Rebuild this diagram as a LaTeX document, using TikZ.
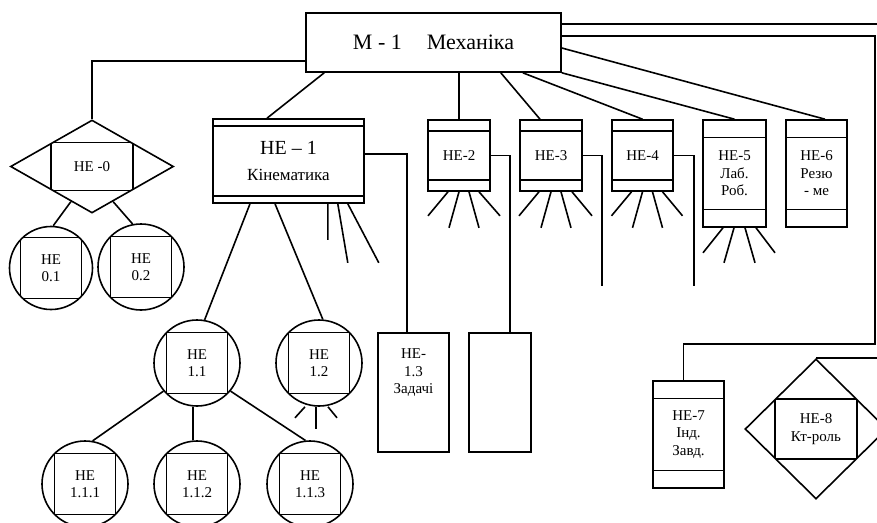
\documentclass[tikz,border=0pt]{standalone}
\usepackage{fontspec}
\setmainfont{Liberation Serif}
\usetikzlibrary{shapes.geometric}

\begin{document}
\begin{tikzpicture}[
  x=1pt, y=-1pt, line width=1.6pt,
  every node/.style={align=center, inner sep=0pt, font=\fontsize{15}{17.5}\selectfont}
]
\tikzset{
  pryam/.style={draw, rectangle},
  blok/.style={draw, rectangle, path picture={
      \draw[line width=1.6pt] ([yshift=-#1]path picture bounding box.north west) -- ([yshift=-#1]path picture bounding box.north east)
            ([yshift=#1]path picture bounding box.south west) -- ([yshift=#1]path picture bounding box.south east);}},
  kolo/.style={draw, circle, minimum size=86pt, path picture={
      \draw[line width=1.6pt] (path picture bounding box.center) +(-30.5pt,-30.5pt) rectangle +(30.5pt,30.5pt);}},
  romb/.style 2 args={draw, diamond, path picture={
      \draw[line width=1.6pt] (path picture bounding box.center) +(-#1,-#2) rectangle +(#1,#2);}}
}
\useasboundingbox (0,0) rectangle (877,522);
\clip (0,0) rectangle (877,522);

\node[pryam, minimum width=255pt, minimum height=59pt, font=\fontsize{22}{26}\selectfont]
  (m1) at (433.5,42.5) {М - 1\hspace{25pt}Механіка};

\node[romb={41pt}{24pt}, minimum width=163pt, minimum height=93pt] (he0) at (92,166.5) {НЕ -0};
\node[kolo, minimum size=83pt] (he01) at (51,268) {НЕ\\0.1};
\node[kolo] (he02) at (141,267) {НЕ\\0.2};

\node[blok=7pt, minimum width=151pt, minimum height=84pt] (he1) at (288.5,161)
  {{\fontsize{20}{24}\selectfont НЕ – 1}\\[8pt]{\fontsize{17}{20}\selectfont Кінематика}};
\node[kolo] (he11) at (197,363) {НЕ\\1.1};
\node[kolo] (he12) at (319,363) {НЕ\\1.2};
\node[kolo] (he111) at (85,484) {НЕ\\1.1.1};
\node[kolo] (he112) at (197,484) {НЕ\\1.1.2};
\node[kolo] (he113) at (310,484) {НЕ\\1.1.3};
\node[pryam, minimum width=71pt, minimum height=119pt,
  label={[anchor=north, yshift=-16pt]north:{НЕ-\\1.3\\Задачі}}] (he13) at (413.5,392.5) {};

\node[blok=11pt, minimum width=62pt, minimum height=71pt] (he2) at (459,155.5) {НЕ-2};
\node[pryam, minimum width=62pt, minimum height=119pt] (he21) at (500,392.5) {};
\node[blok=11pt, minimum width=62pt, minimum height=71pt] (he3) at (551,155.5) {НЕ-3};
\node[blok=11pt, minimum width=61pt, minimum height=71pt] (he4) at (642.5,155.5) {НЕ-4};
\node[blok=17.5pt, minimum width=63pt, minimum height=107pt] (he5) at (734.5,173.5) {НЕ-5\\Лаб.\\Роб.};
\node[blok=17.5pt, minimum width=61pt, minimum height=107pt] (he6) at (816.5,173.5) {НЕ-6\\Резю\\- ме};
\node[blok=17.5pt, minimum width=71pt, minimum height=107pt] (he7) at (688.5,434.5) {НЕ-7\\Інд.\\Завд.};
\node[romb={41pt}{30pt}, minimum width=142pt, minimum height=140pt] (he8) at (816,429) {НЕ-8\\Кт-роль};

\coordinate (v3) at (602,286);
\coordinate (v4) at (694,286);

% від модуля до елементів
\draw ([yshift=12pt]m1.south west) -| (he0.north);
\draw ([xshift=19pt]m1.south west) -- ([xshift=-21.5pt]he1.north);
\draw (m1.south -| he2.north) -- (he2.north);
\draw ([xshift=-61pt]m1.south east) -- ([xshift=-11pt]he3.north);
\draw ([xshift=-39pt]m1.south east) -- (he4.north);
\draw (m1.south east) -- (he5.north);
\draw ([yshift=-5.5pt]m1.east) -- ([xshift=8.5pt]he6.north);
\draw ([yshift=18.5pt]m1.east) -| ([xshift=74pt]he8.north) -- (he8.north);
\draw ([yshift=6.5pt]m1.east) -| ([xshift=186.5pt,yshift=36pt]he7.north) -| ([xshift=-5pt]he7.north);

\draw (he0.239) -- (he01.87);
\draw (he0.301) -- (he02.101);

\draw ([yshift=7pt]he1.east) -| ([xshift=-6.5pt]he13.north);
\draw ([xshift=-38.5pt]he1.south) -- (he11.80);
\draw ([xshift=-13.5pt]he1.south) -- (he12.85);
\draw ([xshift=-37pt]he1.south east) -- ++(0,36)
      ([xshift=-27pt]he1.south east) -- ++(10,59)
      ([xshift=-17pt]he1.south east) -- ++(31,59);

\draw (he11.220) -- (he111.80);
\draw (he11.265) -- (he112.95);
\draw (he11.320) -- (he113.96);
\draw ([xshift=-14pt]he12.south) -- ++(-10,11)
      ([xshift=-3pt]he12.south) -- ++(0,22)
      ([xshift=9pt]he12.south) -- ++(9,11);

\draw (he2.east) -| ([xshift=10pt]he21.north);
\draw (he3.east) -| (v3);
\draw (he4.east) -| (v4);

\draw ([xshift=-11pt]he2.south) -- ++(-20,24) (he2.south) -- ++(-10,36)
      ([xshift=10pt]he2.south) -- ++(10,36) ([xshift=20pt]he2.south) -- ++(21,24);
\draw ([xshift=-12pt]he3.south) -- ++(-20,24) (he3.south) -- ++(-10,36)
      ([xshift=10pt]he3.south) -- ++(10,36) ([xshift=21pt]he3.south) -- ++(20,24);
\draw ([xshift=-11pt]he4.south) -- ++(-20,24) (he4.south) -- ++(-10,36)
      ([xshift=10pt]he4.south) -- ++(10,36) ([xshift=20pt]he4.south) -- ++(20,24);
\draw ([xshift=-11.5pt]he5.south) -- ++(-20,25) ([xshift=-0.5pt]he5.south) -- ++(-10,35)
      ([xshift=10.5pt]he5.south) -- ++(10,35) ([xshift=21.5pt]he5.south) -- ++(19,25);
\end{tikzpicture}
\end{document}
